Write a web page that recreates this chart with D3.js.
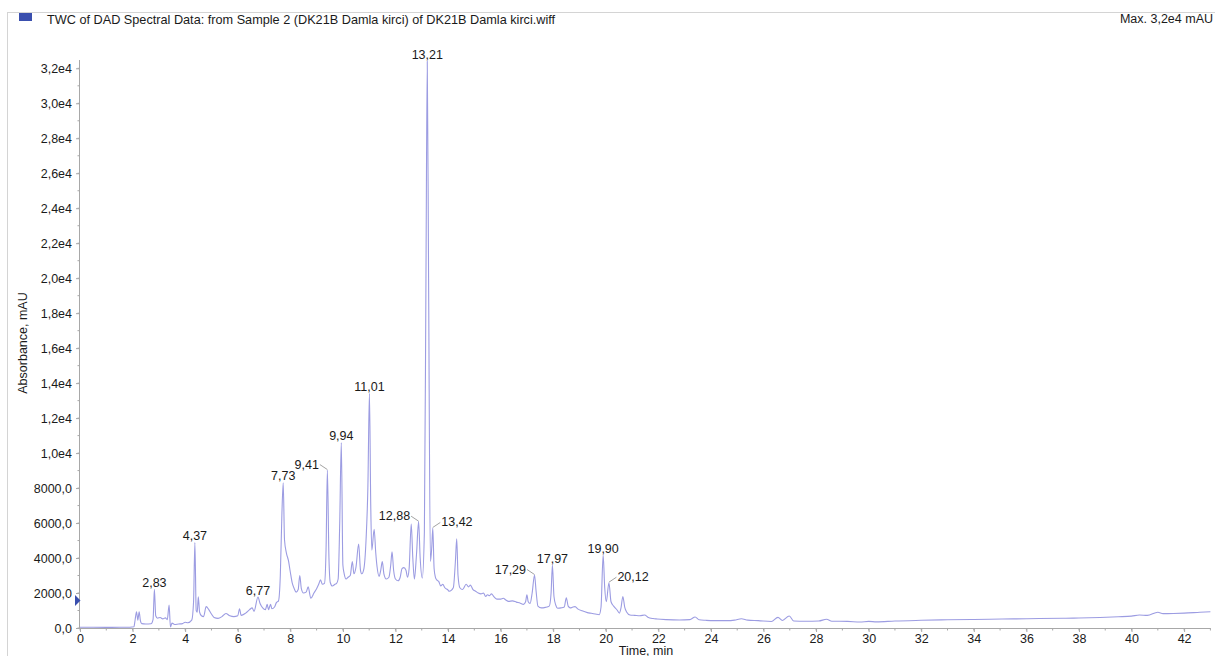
<!DOCTYPE html>
<html>
<head>
<meta charset="utf-8">
<script src="https://cdn.jsdelivr.net/npm/d3@7"></script>
<style>
  html, body { margin: 0; padding: 0; background: #fff; overflow: hidden; }
  svg { display: block; font-family: "Liberation Sans", Arial, Helvetica, sans-serif; }
</style>
</head>
<body>
<svg id="chart" width="1215" height="656"></svg>
<script>
// Total wavelength chromatogram (DAD), time in minutes vs absorbance in mAU
const times = [
  0, 0.5, 1.0, 1.5, 1.9, 2.05, 2.1, 2.15, 2.2, 2.25, 2.3, 2.35, 2.5, 2.7, 2.78, 2.83, 2.88, 2.95,
  3.05, 3.15, 3.25, 3.32, 3.39, 3.44, 3.5, 3.6, 3.75, 3.9, 4.0, 4.1, 4.25, 4.32, 4.37, 4.42, 4.46,
  4.5, 4.55, 4.62, 4.7, 4.8, 4.9, 5.0, 5.1, 5.25, 5.4, 5.55, 5.7, 5.85, 6.0, 6.07, 6.13, 6.3, 6.45,
  6.55, 6.62, 6.77, 6.85, 6.95, 7.05, 7.12, 7.17, 7.25, 7.3, 7.4, 7.47, 7.55, 7.62, 7.68, 7.73,
  7.78, 7.85, 7.93, 8.0, 8.07, 8.15, 8.22, 8.3, 8.36, 8.42, 8.5, 8.6, 8.68, 8.78, 8.9, 9.0, 9.08,
  9.15, 9.22, 9.3, 9.36, 9.41, 9.47, 9.52, 9.6, 9.7, 9.76, 9.82, 9.88, 9.94, 10.0, 10.05, 10.12,
  10.2, 10.28, 10.36, 10.42, 10.5, 10.6, 10.67, 10.72, 10.8, 10.88, 10.95, 11.01, 11.06, 11.1,
  11.19, 11.25, 11.3, 11.38, 11.44, 11.5, 11.56, 11.65, 11.75, 11.82, 11.87, 11.93, 12.0, 12.1,
  12.18, 12.25, 12.32, 12.4, 12.46, 12.52, 12.6, 12.66, 12.72, 12.8, 12.88, 12.94, 13.02, 13.1,
  13.16, 13.21, 13.26, 13.33, 13.38, 13.42, 13.47, 13.52, 13.57, 13.65, 13.72, 13.8, 13.88, 13.98,
  14.05, 14.2, 14.28, 14.33, 14.38, 14.45, 14.55, 14.69, 14.78, 14.85, 14.95, 15.05, 15.15, 15.25,
  15.35, 15.43, 15.5, 15.58, 15.65, 15.75, 15.86, 16.0, 16.1, 16.2, 16.3, 16.45, 16.6, 16.75, 16.87,
  16.95, 17.0, 17.05, 17.12, 17.2, 17.29, 17.35, 17.42, 17.55, 17.7, 17.85, 17.92, 17.97, 18.03,
  18.1, 18.17, 18.3, 18.42, 18.5, 18.57, 18.65, 18.75, 18.83, 18.95, 19.1, 19.3, 19.45, 19.6, 19.75,
  19.82, 19.9, 19.96, 20.02, 20.12, 20.2, 20.3, 20.43, 20.52, 20.58, 20.65, 20.72, 20.8, 20.92,
  21.1, 21.3, 21.48, 21.6, 21.8, 21.95, 22.3, 22.8, 23.2, 23.4, 23.55, 23.8, 24.1, 24.6, 24.9, 25.16,
  25.4, 25.8, 26.3, 26.55, 26.72, 26.98, 27.15, 27.6, 28.1, 28.4, 28.6, 29.2, 29.67, 30.0, 30.3,
  31.0, 32.0, 33.0, 34.0, 34.6, 35.5, 36.5, 37.5, 38.0, 38.8, 39.5, 40.0, 40.3, 40.6, 41.0, 41.2,
  41.6, 42.0, 42.6, 43.0
];
const absorbance = [
  40, 40, 35, 40, 45, 70, 500, 930, 450, 930, 400, 250, 230, 240, 500, 2210, 700, 560,
  600, 520, 580, 480, 1310, 60, 280, 200, 230, 250, 330, 300, 450, 1500, 4880, 1000, 900,
  1790, 900, 700, 650, 1220, 1050, 800, 600, 550, 650, 830, 700, 650, 700, 1100, 720, 850, 1050,
  1150, 950, 1770, 1400, 1150, 1050, 1350, 1050, 1350, 1100, 1200, 1450, 1550, 3000, 6500, 8300,
  5030, 4300, 3850, 3200, 2600, 2250, 2050, 2200, 3000, 2250, 2000, 2050, 2350, 1700, 2000, 2250, 2500,
  2750, 2500, 2550, 4500, 9030, 4000, 2600, 2400, 2500, 2550, 2800, 6000, 10600, 3600, 3100, 2800,
  2900, 3000, 3800, 3100, 3500, 4800, 3300, 3100, 3400, 5000, 8000, 13420, 7000, 4450,
  5650, 4300, 3500, 2950, 3300, 3800, 3100, 2800, 2900, 3600, 4350, 3300, 2800, 2700,
  2900, 3400, 3450, 3300, 2900, 3400, 5950, 4000, 2800, 4200, 6080, 4000, 2850, 5500,
  20000, 32400, 20000, 3800, 4600, 5720, 3400, 2900, 2750, 2650, 2400, 2500, 2300, 2200,
  2100, 2300, 3800, 5100, 3000, 2300, 2200, 2500, 2350, 2450, 2200, 2100, 2000, 1950,
  2000, 1800, 1900, 1850, 1950, 1780, 1650, 1650, 1700, 1600, 1520, 1550, 1480, 1420, 1350,
  1500, 1900, 1500, 1400, 2000, 3030, 2100, 1250, 1150, 1180, 1250, 2000, 3600, 1800,
  1300, 1130, 1150, 1200, 1730, 1250, 1150, 1200, 1220, 1080, 980, 880, 840, 800, 760,
  1200, 4170, 2300, 1500, 2590, 1500, 1250, 1030, 850, 1150, 1800, 1200, 900, 740,
  720, 700, 740, 620, 540, 515, 480, 457, 480, 630, 470, 440, 420, 420, 450, 530,
  450, 420, 370, 610, 430, 690, 400, 390, 400, 500, 390, 380, 340, 380, 350,
  400, 440, 470, 490, 500, 520, 540, 560, 570, 600, 640, 680, 740, 720, 900, 820,
  830, 850, 900, 930
];

// Annotated peak retention times and their printed labels
const peakTimes  = [2.83, 4.37, 6.77, 7.73, 9.41, 9.94, 11.01, 12.88, 13.21, 13.42, 17.29, 17.97, 19.90, 20.12];
const peakLabels = ["2,83", "4,37", "6,77", "7,73", "9,41", "9,94", "11,01", "12,88", "13,21", "13,42", "17,29", "17,97", "19,90", "20,12"];
// Which side a callout label sits on ("above" = centred over the peak)
const peakLabelSide = ["above", "above", "above", "above", "left", "above", "above", "left", "above", "right", "left", "above", "above", "right"];

// Axis ticks
const xTicks = [0, 2, 4, 6, 8, 10, 12, 14, 16, 18, 20, 22, 24, 26, 28, 30, 32, 34, 36, 38, 40, 42];
const xMinorTicks = d3.range(0, 44, 1);
const yTicks = [0, 2000, 4000, 6000, 8000, 10000, 12000, 14000, 16000, 18000, 20000, 22000, 24000, 26000, 28000, 30000, 32000];
const yTickLabels = ["0,0", "2000,0", "4000,0", "6000,0", "8000,0", "1,0e4", "1,2e4", "1,4e4", "1,6e4", "1,8e4", "2,0e4", "2,2e4", "2,4e4", "2,6e4", "2,8e4", "3,0e4", "3,2e4"];
const yMinorTicks = d3.range(0, 33000, 1000);

const titleText = "TWC of DAD Spectral Data: from Sample 2 (DK21B Damla kirci) of DK21B Damla kirci.wiff";
const maxText = "Max. 3,2e4 mAU";
const xTitle = "Time, min";
const yTitle = "Absorbance, mAU";
const markerValue = 1570;

const svg = d3.select("#chart");
const W = 1215, H = 656;
const plot = { left: 80, right: 1210.4, top: 60, bottom: 628 };
const fontSize = 12.5;
const textColor = "#1a1a1a";
const axisColor = "#a8a8a8";
const traceColor = "#9c9ce2";

const x = d3.scaleLinear().domain([0, 43]).range([plot.left, plot.right]);
const y = d3.scaleLinear().domain([0, 32475]).range([plot.bottom, plot.top]);

// Panel frame
svg.append("line").attr("x1", 7).attr("x2", W).attr("y1", 12.5).attr("y2", 12.5)
  .attr("stroke", "#d4d4d4").attr("stroke-width", 1);
svg.append("line").attr("x1", 7.5).attr("x2", 7.5).attr("y1", 12).attr("y2", H)
  .attr("stroke", "#d4d4d4").attr("stroke-width", 1);

// Header: legend swatch, trace title, max readout
svg.append("rect").attr("x", 19).attr("y", 13).attr("width", 13).attr("height", 8).attr("fill", "#3a4fae");
svg.append("text").attr("x", 47).attr("y", 23.5).attr("font-size", 12.7).attr("fill", textColor).text(titleText);
svg.append("text").attr("x", 1213).attr("y", 23).attr("text-anchor", "end")
  .attr("font-size", fontSize).attr("fill", textColor).text(maxText);

// Minor ticks
const gx = svg.append("g");
gx.selectAll("line.minor").data(xMinorTicks.filter(d => d <= 43)).join("line")
  .attr("x1", d => x(d)).attr("x2", d => x(d))
  .attr("y1", plot.bottom).attr("y2", plot.bottom + 2.5)
  .attr("stroke", axisColor).attr("stroke-width", 1);
const gy = svg.append("g");
gy.selectAll("line.minor").data(yMinorTicks).join("line")
  .attr("x1", plot.left - 2.5).attr("x2", plot.left)
  .attr("y1", d => y(d)).attr("y2", d => y(d))
  .attr("stroke", axisColor).attr("stroke-width", 1);

// X axis
const xAxis = d3.axisBottom(x).tickValues(xTicks).tickFormat(d3.format("d")).tickSize(4).tickPadding(2);
const xg = svg.append("g").attr("transform", `translate(0,${plot.bottom})`).call(xAxis);
xg.select(".domain").attr("d", `M${plot.left},0.5H${plot.right}`).attr("stroke", axisColor);
xg.selectAll(".tick line").attr("stroke", axisColor);
xg.selectAll(".tick text").attr("font-size", fontSize).attr("font-family", null).attr("fill", textColor);

// Y axis
const yAxis = d3.axisLeft(y).tickValues(yTicks).tickFormat((d, i) => yTickLabels[i]).tickSize(4).tickPadding(4);
const yg = svg.append("g").attr("transform", `translate(${plot.left},0)`).call(yAxis);
yg.select(".domain").attr("d", `M-0.5,${plot.top}V${plot.bottom}`).attr("stroke", axisColor);
yg.selectAll(".tick line").attr("stroke", axisColor);
yg.selectAll(".tick text").attr("font-size", fontSize).attr("font-family", null).attr("fill", textColor);

// Axis titles
svg.append("text").attr("x", 646).attr("y", 654.5).attr("text-anchor", "middle")
  .attr("font-size", fontSize).attr("fill", textColor).text(xTitle);
svg.append("text").attr("transform", `translate(27,343) rotate(-90)`).attr("text-anchor", "middle")
  .attr("font-size", fontSize).attr("fill", textColor).text(yTitle);

// Chromatogram trace
const series = times.map((t, i) => ({ t, v: absorbance[i] }));
const line = d3.line().x(d => x(d.t)).y(d => y(d.v)).curve(d3.curveMonotoneX);
svg.append("path").datum(series).attr("d", line)
  .attr("fill", "none").attr("stroke", traceColor).attr("stroke-width", 1.1).attr("stroke-linejoin", "round");

// Baseline marker on the y axis
const my = y(markerValue);
svg.append("path").attr("d", `M${plot.left - 5},${my - 5.5}L${plot.left + 0.5},${my}L${plot.left - 5},${my + 5.5}Z`)
  .attr("fill", "#3a4fae");

// Peak labels
const valueAt = t => {
  const i = times.findIndex(tt => Math.abs(tt - t) < 1e-6);
  return absorbance[i];
};
const gl = svg.append("g").attr("font-size", fontSize).attr("fill", textColor);
peakTimes.forEach((t, i) => {
  const px = x(t), py = y(valueAt(t));
  const side = peakLabelSide[i];
  if (side === "above") {
    gl.append("text").attr("x", px).attr("y", py - 2.5).attr("text-anchor", "middle").text(peakLabels[i]);
  } else {
    const dir = side === "left" ? -1 : 1;
    gl.append("line").attr("x1", px).attr("y1", py - 0.5).attr("x2", px + dir * 7.5).attr("y2", py - 5.5)
      .attr("stroke", "#8a8a8a").attr("stroke-width", 0.8);
    gl.append("text").attr("x", px + dir * 8.5).attr("y", py - 1.5)
      .attr("text-anchor", side === "left" ? "end" : "start").text(peakLabels[i]);
  }
});
</script>
</body>
</html>
